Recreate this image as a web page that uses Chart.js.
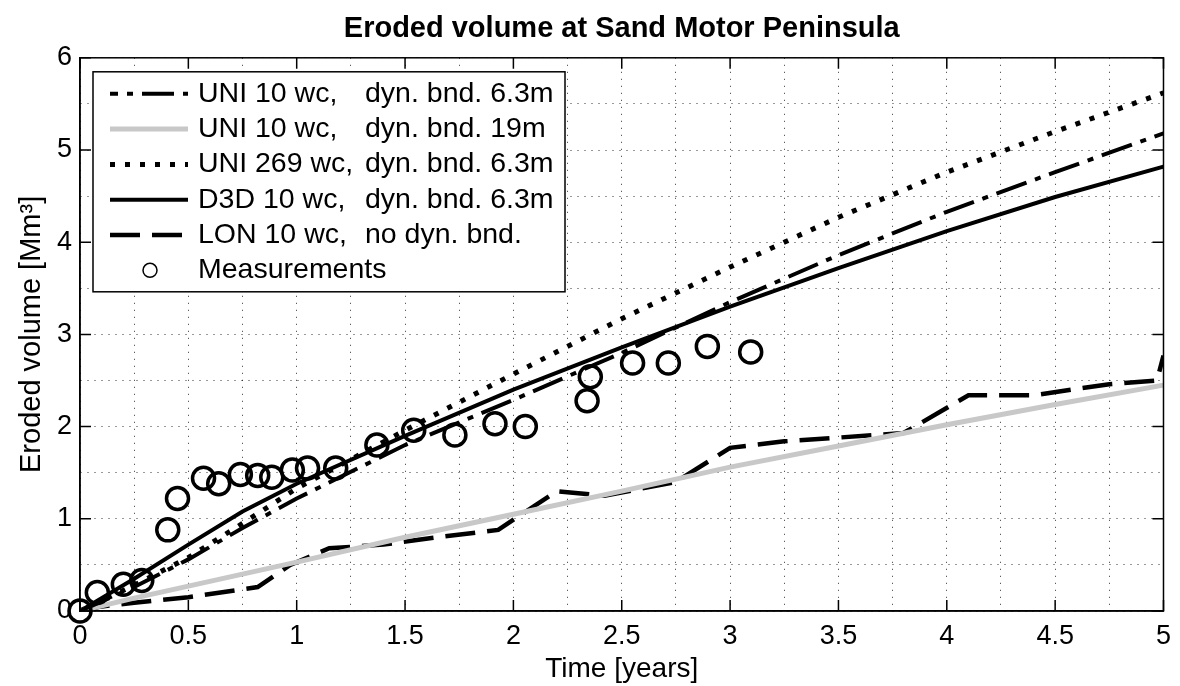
<!DOCTYPE html>
<html>
<head>
<meta charset="utf-8">
<title>Eroded volume at Sand Motor Peninsula</title>
<script src="https://cdn.jsdelivr.net/npm/chart.js@4.4.1/dist/chart.umd.min.js"></script>
<style>
  html, body { margin: 0; padding: 0; background: #fff; }
</style>
</head>
<body>
<canvas id="chart" width="1180" height="686"></canvas>
<script>
// model runs, sampled on a common time axis (years)
const modelTime = [0, 0.25, 0.5, 0.75, 1, 1.5, 2, 2.5, 3, 3.5, 4, 4.5, 5];
const uni10Dyn63 = [0, 0.26, 0.56, 0.9, 1.22, 1.8, 2.29, 2.8, 3.35, 3.86, 4.33, 4.76, 5.18];
const uni10Dyn19 = [0, 0.14, 0.27, 0.4, 0.53, 0.8, 1.05, 1.3, 1.56, 1.79, 2.02, 2.24, 2.45];
const uni269Dyn63 = [0, 0.28, 0.58, 0.95, 1.33, 1.96, 2.57, 3.17, 3.73, 4.27, 4.76, 5.2, 5.62];
const d3dDyn63 = [0, 0.35, 0.72, 1.08, 1.38, 1.9, 2.4, 2.86, 3.3, 3.72, 4.12, 4.49, 4.82];

// LON run has its own (irregular) output times
const lonTime = [0, 0.1, 0.25, 0.5, 0.82, 0.97, 1.15, 1.4, 1.65, 1.93, 2.2, 2.42, 2.75, 3.0, 3.25, 3.8, 4.1, 4.4, 4.75, 4.97, 5];
const lonVolume = [0, 0.05, 0.09, 0.15, 0.26, 0.5, 0.68, 0.72, 0.8, 0.88, 1.3, 1.25, 1.4, 1.77, 1.84, 1.93, 2.34, 2.34, 2.46, 2.5, 2.77];

// survey data
const measTime = [0, 0.08, 0.2, 0.285, 0.405, 0.45, 0.57, 0.64, 0.74, 0.82, 0.885, 0.98, 1.05, 1.18, 1.37, 1.54, 1.73, 1.915, 2.055, 2.34, 2.355, 2.55, 2.715, 2.895, 3.095];
const measVolume = [0, 0.2, 0.29, 0.33, 0.88, 1.22, 1.44, 1.38, 1.48, 1.47, 1.45, 1.53, 1.55, 1.55, 1.8, 1.96, 1.91, 2.03, 2.0, 2.28, 2.54, 2.69, 2.69, 2.87, 2.81];

const legendNames = ["UNI 10 wc,", "UNI 10 wc,", "UNI 269 wc,", "D3D 10 wc,", "LON 10 wc,", "Measurements"];
const legendNotes = ["dyn. bnd. 6.3m", "dyn. bnd. 19m", "dyn. bnd. 6.3m", "dyn. bnd. 6.3m", "no dyn. bnd.", ""];

const xMajor = [0, 0.5, 1, 1.5, 2, 2.5, 3, 3.5, 4, 4.5, 5];
const yMajor = [0, 1, 2, 3, 4, 5, 6];

Chart.defaults.font.family = "'Liberation Sans', Arial, sans-serif";
Chart.defaults.color = "#000";

const pts = (xs, ys) => xs.map((x, i) => ({ x: x, y: ys[i] }));

function lineSet(label, ys, xs, color, width, dash) {
  return {
    label: label,
    data: pts(xs, ys),
    showLine: true,
    borderColor: color,
    borderWidth: width,
    borderDash: dash,
    borderCapStyle: "butt",
    pointRadius: 0,
    fill: false,
    order: 1
  };
}

const datasets = [
  lineSet(legendNames[0] + " " + legendNotes[0], uni10Dyn63, modelTime, "#000", 4, [32, 9, 6, 9]),
  lineSet(legendNames[1] + " " + legendNotes[1], uni10Dyn19, modelTime, "#c8c8c8", 5, []),
  lineSet(legendNames[2] + " " + legendNotes[2], uni269Dyn63, modelTime, "#000", 5, [5, 10]),
  lineSet(legendNames[3] + " " + legendNotes[3], d3dDyn63, modelTime, "#000", 4, []),
  lineSet(legendNames[4] + " " + legendNotes[4], lonVolume, lonTime, "#000", 4.5, [30, 12]),
  {
    label: legendNames[5],
    data: pts(measTime, measVolume),
    showLine: false,
    pointStyle: "circle",
    pointRadius: 11,
    pointBorderWidth: 3.5,
    pointBorderColor: "#000",
    pointBackgroundColor: "rgba(0,0,0,0)",
    clip: false,
    order: 0
  }
];

// frame on all four sides + inward tick marks
const framePlugin = {
  id: "frame",
  afterDatasetsDraw(chart) {
    const { ctx, chartArea: a, scales } = chart;
    const len = 11;
    ctx.save();
    ctx.strokeStyle = "#000";
    ctx.lineWidth = 1.5;
    ctx.strokeRect(a.left, a.top, a.right - a.left, a.bottom - a.top);
    ctx.beginPath();
    xMajor.forEach(v => {
      const px = scales.x.getPixelForValue(v);
      ctx.moveTo(px, a.bottom); ctx.lineTo(px, a.bottom - len);
      ctx.moveTo(px, a.top); ctx.lineTo(px, a.top + len);
    });
    yMajor.forEach(v => {
      const py = scales.y.getPixelForValue(v);
      ctx.moveTo(a.left, py); ctx.lineTo(a.left + len, py);
      ctx.moveTo(a.right, py); ctx.lineTo(a.right - len, py);
    });
    ctx.stroke();
    ctx.restore();
  }
};

// MATLAB style legend box in the upper left corner
const boxLegend = {
  id: "boxLegend",
  afterDraw(chart) {
    const { ctx, chartArea: a } = chart;
    const left = a.left + 13, top = a.top + 14;
    const w = 472, h = 220;
    ctx.save();
    ctx.fillStyle = "#fff";
    ctx.fillRect(left, top, w, h);
    ctx.strokeStyle = "#000";
    ctx.lineWidth = 1.5;
    ctx.strokeRect(left, top, w, h);
    ctx.font = "28.5px 'Liberation Sans', Arial, sans-serif";
    ctx.textBaseline = "middle";
    ctx.fillStyle = "#000";
    chart.data.datasets.forEach((ds, i) => {
      const y = top + 22 + i * 35.3;
      if (ds.showLine) {
        ctx.save();
        ctx.strokeStyle = ds.borderColor;
        ctx.lineWidth = ds.borderWidth;
        ctx.setLineDash(ds.borderDash || []);
        ctx.lineDashOffset = i === 0 ? 24 : 0;
        ctx.beginPath();
        ctx.moveTo(left + 17, y);
        ctx.lineTo(left + 95, y);
        ctx.stroke();
        ctx.restore();
      } else {
        ctx.beginPath();
        ctx.lineWidth = 1.5;
        ctx.arc(left + 57, y, 7, 0, Math.PI * 2);
        ctx.stroke();
      }
      ctx.fillText(legendNames[i], left + 105, y);
      if (legendNotes[i]) ctx.fillText(legendNotes[i], left + 272, y);
    });
    ctx.restore();
  }
};

const ctx = document.getElementById("chart").getContext("2d");
const chart = new Chart(ctx, {
  type: "scatter",
  data: { datasets: datasets },
  plugins: [framePlugin, boxLegend],
  options: {
    responsive: false,
    animation: false,
    devicePixelRatio: 1,
    layout: { padding: { left: 0, right: 10, top: 0, bottom: 0 } },
    plugins: {
      legend: { display: false },
      tooltip: { enabled: false },
      title: {
        display: true,
        text: "Eroded volume at Sand Motor Peninsula",
        fullSize: false,
        color: "#000",
        font: { size: 29, weight: "bold" },
        padding: { top: 12, bottom: 11 }
      }
    },
    scales: {
      x: {
        type: "linear",
        min: 0,
        max: 5,
        afterFit(s) { s.height = 75; },
        ticks: {
          stepSize: 0.25,
          autoSkip: false,
          maxRotation: 0,
          padding: 9,
          font: { size: 27 },
          callback: v => (Math.abs(v * 2 - Math.round(v * 2)) < 1e-9 ? String(v) : "")
        },
        grid: { color: "rgba(0,0,0,0.8)", lineWidth: 1, drawTicks: false },
        border: { color: "#000", width: 1.5, dash: [1, 6] },
        title: {
          display: true,
          text: "Time [years]",
          font: { size: 28 },
          padding: { top: 0, bottom: 0 }
        }
      },
      y: {
        type: "linear",
        min: 0,
        max: 6,
        afterFit(s) { s.width = 80; },
        ticks: {
          stepSize: 0.5,
          padding: 8,
          font: { size: 27 },
          callback: v => (Number.isInteger(v) ? String(v) : "")
        },
        grid: { color: "rgba(0,0,0,0.8)", lineWidth: 1, drawTicks: false },
        border: { color: "#000", width: 1.5, dash: [1, 6] },
        title: {
          display: true,
          text: "Eroded volume [Mm³]",
          font: { size: 29 },
          padding: { top: 15, bottom: 0 }
        }
      }
    }
  }
});
</script>
</body>
</html>
